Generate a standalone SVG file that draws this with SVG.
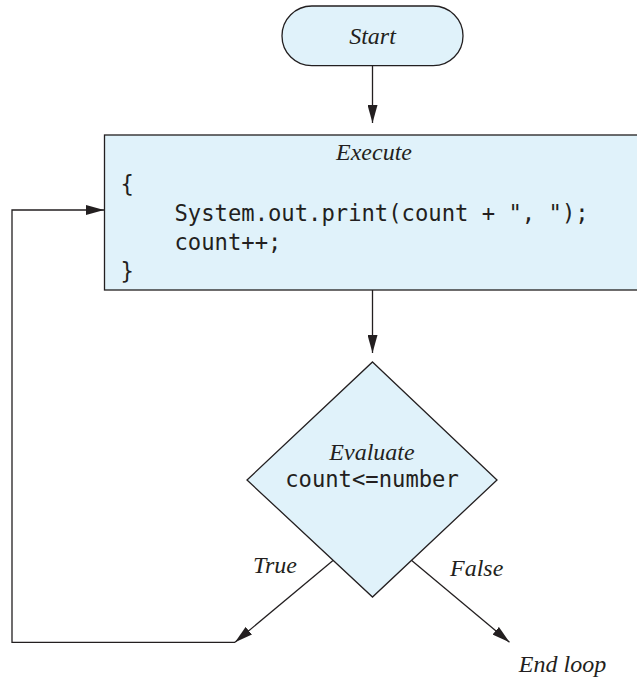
<svg xmlns="http://www.w3.org/2000/svg" width="637" height="678" viewBox="0 0 637 678">
<style>
.shape{fill:#e0f2fa;stroke:#231f20;stroke-width:1.3}
.conn{fill:none;stroke:#231f20;stroke-width:1.3}
.lbl{font-family:"Liberation Serif","Times New Roman",serif;font-style:italic;font-size:24px;fill:#231f20}
.code{font-family:"DejaVu Sans Mono","Liberation Mono",monospace;font-size:22.2px;fill:#231f20}
</style>
<defs>
<marker id="arr" markerUnits="userSpaceOnUse" markerWidth="18" markerHeight="10" refX="18" refY="5" orient="auto">
<path d="M0,0 L18,5 L0,10 z" fill="#231f20"/>
</marker>
</defs>
<rect width="637" height="678" fill="#ffffff"/>
<g id="start">
<rect class="shape" x="282" y="6" width="181" height="59.7" rx="29.8" ry="29.8"/>
<text class="lbl" x="372.5" y="44" text-anchor="middle">Start</text>
</g>
<g id="execute">
<rect class="shape" x="104.5" y="135" width="540" height="155"/>
<text class="lbl" x="374" y="160" text-anchor="middle">Execute</text>
<text class="code" x="120.5" y="191.5">{</text>
<text class="code" x="174.5" y="220.5">System.out.print(count + ", ");</text>
<text class="code" x="174.5" y="249.5">count++;</text>
<text class="code" x="120.5" y="278.5">}</text>
</g>
<g id="evaluate">
<polygon class="shape" points="372.5,362 497,480 372.5,597 247,480"/>
<text class="lbl" x="372" y="460" text-anchor="middle">Evaluate</text>
<text class="code" x="372" y="486.7" text-anchor="middle">count&lt;=number</text>
</g>
<g id="end">
<text class="lbl" x="562.5" y="671.5" text-anchor="middle">End loop</text>
</g>
<g id="connectors">
<line class="conn" x1="372.5" y1="65.7" x2="372.5" y2="123" marker-end="url(#arr)"/>
<line class="conn" x1="372.5" y1="290" x2="372.5" y2="353" marker-end="url(#arr)"/>
<line class="conn" x1="333" y1="560.5" x2="235" y2="642.3" marker-end="url(#arr)"/>
<line class="conn" x1="411.7" y1="560.5" x2="509.5" y2="642.3" marker-end="url(#arr)"/>
<path class="conn" d="M235,642.3 H12 V210 H104" marker-end="url(#arr)"/>
<text class="lbl" x="275" y="573" text-anchor="middle">True</text>
<text class="lbl" x="476.7" y="575.7" text-anchor="middle">False</text>
</g>
</svg>
